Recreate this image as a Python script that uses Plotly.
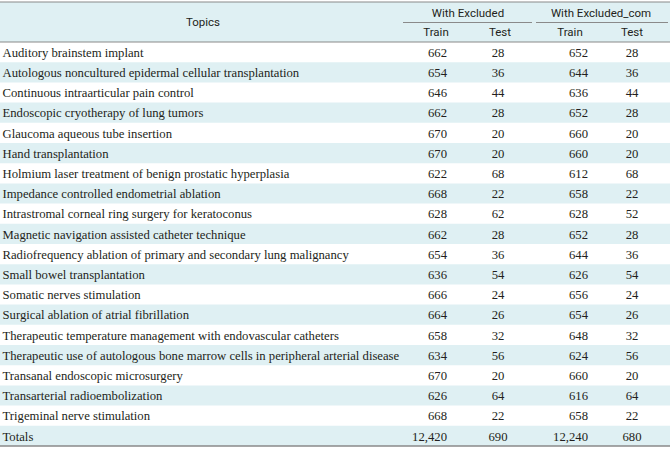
import plotly.graph_objects as go

topics = [
    "Auditory brainstem implant",
    "Autologous noncultured epidermal cellular transplantation",
    "Continuous intraarticular pain control",
    "Endoscopic cryotherapy of lung tumors",
    "Glaucoma aqueous tube insertion",
    "Hand transplantation",
    "Holmium laser treatment of benign prostatic hyperplasia",
    "Impedance controlled endometrial ablation",
    "Intrastromal corneal ring surgery for keratoconus",
    "Magnetic navigation assisted catheter technique",
    "Radiofrequency ablation of primary and secondary lung malignancy",
    "Small bowel transplantation",
    "Somatic nerves stimulation",
    "Surgical ablation of atrial fibrillation",
    "Therapeutic temperature management with endovascular catheters",
    "Therapeutic use of autologous bone marrow cells in peripheral arterial disease",
    "Transanal endoscopic microsurgery",
    "Transarterial radioembolization",
    "Trigeminal nerve stimulation",
    "Totals",
]
excl_train = [662, 654, 646, 662, 670, 670, 622, 668, 628, 662, 654, 636, 666, 664, 658, 634, 670, 626, 668, 12420]
excl_test = [28, 36, 44, 28, 20, 20, 68, 22, 62, 28, 36, 54, 24, 26, 32, 56, 20, 64, 22, 690]
com_train = [652, 644, 636, 652, 660, 660, 612, 658, 628, 652, 644, 626, 656, 654, 648, 624, 660, 616, 658, 12240]
com_test = [28, 36, 44, 28, 20, 20, 68, 22, 52, 28, 36, 54, 24, 26, 32, 56, 20, 64, 22, 680]

group_labels = ["With Excluded", "With Excluded_com"]
sub_labels = ["Train", "Test", "Train", "Test"]
first_header = "Topics"

W, H = 670, 449
TOP = 2
HDR_BOTTOM = 42
ROW_H = 20.2
N = len(topics)
DY = 1.5
rows_y = [HDR_BOTTOM + ROW_H * (i + 0.5) + DY for i in range(N)]
TABLE_BOTTOM = HDR_BOTTOM + ROW_H * N

BG = "#dff0f3"
TXT = "#231f20"
LINE = "#8a8a8a"
SERIF = "Liberation Serif"
SANS = "Roboto"

fig = go.Figure()

shapes = []
shapes.append(dict(type="rect", xref="x", yref="y", x0=0, x1=W, y0=TOP, y1=HDR_BOTTOM,
                   fillcolor=BG, line=dict(width=0), layer="below"))
for i in range(N):
    if i % 2 == 1:
        shapes.append(dict(type="rect", xref="x", yref="y", x0=0, x1=W,
                           y0=HDR_BOTTOM + ROW_H * i, y1=HDR_BOTTOM + ROW_H * (i + 1),
                           fillcolor=BG, line=dict(width=0), layer="below"))
shapes.append(dict(type="line", x0=0, x1=W, y0=TOP, y1=TOP, line=dict(color=LINE, width=1.2)))
shapes.append(dict(type="line", x0=0, x1=W, y0=HDR_BOTTOM, y1=HDR_BOTTOM, line=dict(color=LINE, width=1.2)))
shapes.append(dict(type="line", x0=0, x1=W, y0=TABLE_BOTTOM, y1=TABLE_BOTTOM, line=dict(color=LINE, width=1.6)))
shapes.append(dict(type="line", x0=403, x1=532, y0=22.5, y1=22.5, line=dict(color=LINE, width=1)))
shapes.append(dict(type="line", x0=536, x1=668, y0=22.5, y1=22.5, line=dict(color=LINE, width=1)))

hdr_font = dict(family=SANS, size=11.5, color=TXT)
fig.add_trace(go.Scatter(x=[203], y=[23], mode="text", text=[first_header],
                         textfont=hdr_font, hoverinfo="skip"))
fig.add_trace(go.Scatter(x=[468, 601], y=[14, 14], mode="text", text=group_labels,
                         textfont=hdr_font, hoverinfo="skip"))
fig.add_trace(go.Scatter(x=[436, 500, 570, 632], y=[33.5] * 4, mode="text", text=sub_labels,
                         textfont=hdr_font, hoverinfo="skip"))

body_font = dict(family=SERIF, size=12.7, color=TXT)
fig.add_trace(go.Scatter(x=[2.5] * N, y=rows_y, mode="text", text=topics, textposition="middle right",
                         textfont=body_font, hoverinfo="skip"))
fmt = lambda v: f"{v:,}"
fig.add_trace(go.Scatter(x=[447] * N, y=rows_y, mode="text", text=[fmt(v) for v in excl_train],
                         textposition="middle left", textfont=body_font, hoverinfo="skip"))
fig.add_trace(go.Scatter(x=[498] * N, y=rows_y, mode="text", text=[fmt(v) for v in excl_test],
                         textposition="middle center", textfont=body_font, hoverinfo="skip"))
fig.add_trace(go.Scatter(x=[588] * N, y=rows_y, mode="text", text=[fmt(v) for v in com_train],
                         textposition="middle left", textfont=body_font, hoverinfo="skip"))
fig.add_trace(go.Scatter(x=[632] * N, y=rows_y, mode="text", text=[fmt(v) for v in com_test],
                         textposition="middle center", textfont=body_font, hoverinfo="skip"))

fig.update_layout(
    width=W, height=H, margin=dict(l=0, r=0, t=0, b=0),
    paper_bgcolor="white", plot_bgcolor="white", showlegend=False,
    xaxis=dict(range=[0, W], visible=False, fixedrange=True),
    yaxis=dict(range=[H, 0], visible=False, fixedrange=True),
    shapes=shapes,
)
fig.write_html("out.html", config={"displayModeBar": False},
               post_script="document.body.style.margin='0';document.body.style.padding='0';")
